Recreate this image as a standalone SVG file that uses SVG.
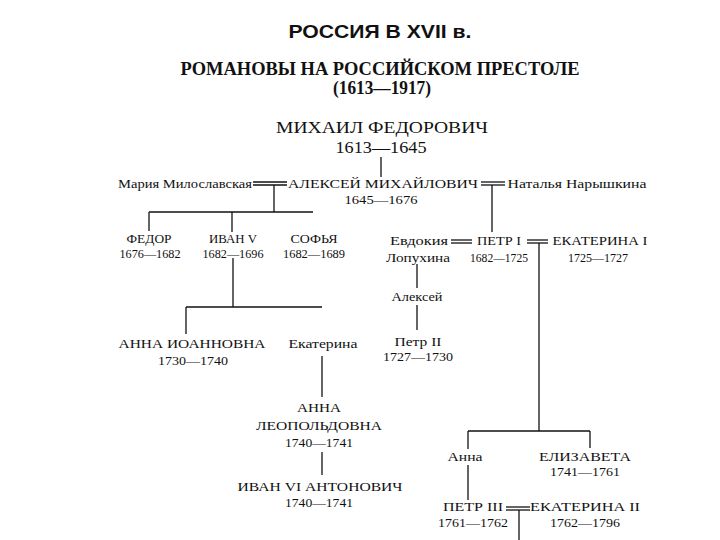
<svg xmlns="http://www.w3.org/2000/svg" width="720" height="540" viewBox="0 0 720 540">
<style>
text{font-family:"Liberation Serif","Times New Roman",serif;fill:#111;text-anchor:middle}
.h1{font-family:"Liberation Sans",Arial,sans-serif;font-weight:bold;font-size:18px}
.h2{font-weight:bold;font-size:18px}
.big{font-size:17px}
.n{font-size:13px}
.c{font-size:12.5px}
.y{font-size:12.5px}
.ln{stroke:#111;stroke-width:1.3;fill:none}
</style>
<rect width="720" height="540" fill="#fff"/>
<g id="title">
<text class="h1" x="380" y="38" textLength="183" lengthAdjust="spacingAndGlyphs">РОССИЯ В XVII в.</text>
<text class="h2" x="380" y="75" textLength="399" lengthAdjust="spacingAndGlyphs">РОМАНОВЫ НА РОССИЙСКОМ ПРЕСТОЛЕ</text>
<text class="h2" x="382" y="94" textLength="98" lengthAdjust="spacingAndGlyphs">(1613—1917)</text>
</g>
<g id="connectors" class="ln">
<line x1="381" y1="157" x2="381" y2="177"/>
<line x1="253" y1="182" x2="287" y2="182"/>
<line x1="253" y1="185" x2="287" y2="185"/>
<line x1="481" y1="182" x2="505" y2="182"/>
<line x1="481" y1="185" x2="505" y2="185"/>
<line x1="274" y1="185" x2="274" y2="212"/>
<line x1="149" y1="212" x2="313" y2="212"/>
<line x1="149" y1="212" x2="149" y2="231"/>
<line x1="232" y1="212" x2="232" y2="232"/>
<line x1="233" y1="258" x2="233" y2="307"/>
<line x1="186" y1="307" x2="322" y2="307"/>
<line x1="186" y1="307" x2="186" y2="334"/>
<line x1="322" y1="356" x2="322" y2="397"/>
<line x1="322" y1="452" x2="322" y2="475"/>
<line x1="492" y1="185" x2="492" y2="232"/>
<line x1="451" y1="240" x2="472" y2="240"/>
<line x1="451" y1="243" x2="472" y2="243"/>
<line x1="527" y1="240" x2="548" y2="240"/>
<line x1="527" y1="243" x2="548" y2="243"/>
<line x1="417" y1="264" x2="417" y2="288"/>
<line x1="417" y1="305" x2="417" y2="330"/>
<line x1="539" y1="243" x2="539" y2="431"/>
<line x1="468" y1="431" x2="590" y2="431"/>
<line x1="468" y1="431" x2="468" y2="449"/>
<line x1="590" y1="431" x2="590" y2="448"/>
<line x1="468" y1="465" x2="468" y2="500"/>
<line x1="506" y1="507" x2="530" y2="507"/>
<line x1="506" y1="510" x2="530" y2="510"/>
<line x1="519" y1="510" x2="519" y2="540"/>
</g>
<g id="mikhail"><text class="big" x="382" y="133" textLength="212" lengthAdjust="spacingAndGlyphs">МИХАИЛ ФЕДОРОВИЧ</text><text class="big" x="381" y="153" textLength="91" lengthAdjust="spacingAndGlyphs">1613—1645</text></g>
<g id="maria"><text class="n" x="185" y="188" textLength="134" lengthAdjust="spacingAndGlyphs">Мария Милославская</text></g>
<g id="aleksei"><text class="c" x="383" y="188" textLength="190" lengthAdjust="spacingAndGlyphs">АЛЕКСЕЙ МИХАЙЛОВИЧ</text><text class="y" x="381" y="204" textLength="73" lengthAdjust="spacingAndGlyphs">1645—1676</text></g>
<g id="natalia"><text class="n" x="577" y="188" textLength="139" lengthAdjust="spacingAndGlyphs">Наталья Нарышкина</text></g>
<g id="fedor"><text class="c" x="149" y="243" textLength="45" lengthAdjust="spacingAndGlyphs">ФЕДОР</text><text class="y" x="150" y="258" textLength="61" lengthAdjust="spacingAndGlyphs">1676—1682</text></g>
<g id="ivan5"><text class="c" x="233" y="243" textLength="48" lengthAdjust="spacingAndGlyphs">ИВАН V</text><text class="y" x="233" y="258" textLength="61" lengthAdjust="spacingAndGlyphs">1682—1696</text></g>
<g id="sofia"><text class="c" x="314" y="243" textLength="47" lengthAdjust="spacingAndGlyphs">СОФЬЯ</text><text class="y" x="314" y="258" textLength="62" lengthAdjust="spacingAndGlyphs">1682—1689</text></g>
<g id="evdokia"><text class="n" x="419" y="245" textLength="58" lengthAdjust="spacingAndGlyphs">Евдокия</text><text class="n" x="418" y="262" textLength="64" lengthAdjust="spacingAndGlyphs">Лопухина</text></g>
<g id="petr1"><text class="c" x="499" y="245" textLength="44" lengthAdjust="spacingAndGlyphs">ПЕТР I</text><text class="y" x="499" y="262" textLength="58" lengthAdjust="spacingAndGlyphs">1682—1725</text></g>
<g id="ekaterina1"><text class="c" x="600" y="245" textLength="95" lengthAdjust="spacingAndGlyphs">ЕКАТЕРИНА I</text><text class="y" x="598" y="262" textLength="60" lengthAdjust="spacingAndGlyphs">1725—1727</text></g>
<g id="aleksei-son"><text class="n" x="417" y="301" textLength="51" lengthAdjust="spacingAndGlyphs">Алексей</text></g>
<g id="petr2"><text class="n" x="418" y="346" textLength="47" lengthAdjust="spacingAndGlyphs">Петр II</text><text class="y" x="418" y="361" textLength="70" lengthAdjust="spacingAndGlyphs">1727—1730</text></g>
<g id="anna-ioannovna"><text class="c" x="192" y="348" textLength="147" lengthAdjust="spacingAndGlyphs">АННА ИОАННОВНА</text><text class="y" x="193" y="365" textLength="70" lengthAdjust="spacingAndGlyphs">1730—1740</text></g>
<g id="ekaterina-ivanovna"><text class="n" x="323" y="348" textLength="69" lengthAdjust="spacingAndGlyphs">Екатерина</text></g>
<g id="anna-leopoldovna"><text class="c" x="319" y="412" textLength="44" lengthAdjust="spacingAndGlyphs">АННА</text><text class="c" x="319" y="430" textLength="126" lengthAdjust="spacingAndGlyphs">ЛЕОПОЛЬДОВНА</text><text class="y" x="319" y="447" textLength="68" lengthAdjust="spacingAndGlyphs">1740—1741</text></g>
<g id="ivan6"><text class="c" x="320" y="491" textLength="165" lengthAdjust="spacingAndGlyphs">ИВАН VI АНТОНОВИЧ</text><text class="y" x="319" y="507" textLength="68" lengthAdjust="spacingAndGlyphs">1740—1741</text></g>
<g id="anna-petrovna"><text class="n" x="465" y="461" textLength="35" lengthAdjust="spacingAndGlyphs">Анна</text></g>
<g id="elizaveta"><text class="c" x="585" y="461" textLength="92" lengthAdjust="spacingAndGlyphs">ЕЛИЗАВЕТА</text><text class="y" x="585" y="476" textLength="70" lengthAdjust="spacingAndGlyphs">1741—1761</text></g>
<g id="petr3"><text class="c" x="473" y="511" textLength="60" lengthAdjust="spacingAndGlyphs">ПЕТР III</text><text class="y" x="473" y="527" textLength="70" lengthAdjust="spacingAndGlyphs">1761—1762</text></g>
<g id="ekaterina2"><text class="c" x="585" y="511" textLength="110" lengthAdjust="spacingAndGlyphs">ЕКАТЕРИНА II</text><text class="y" x="585" y="527" textLength="70" lengthAdjust="spacingAndGlyphs">1762—1796</text></g>
</svg>
